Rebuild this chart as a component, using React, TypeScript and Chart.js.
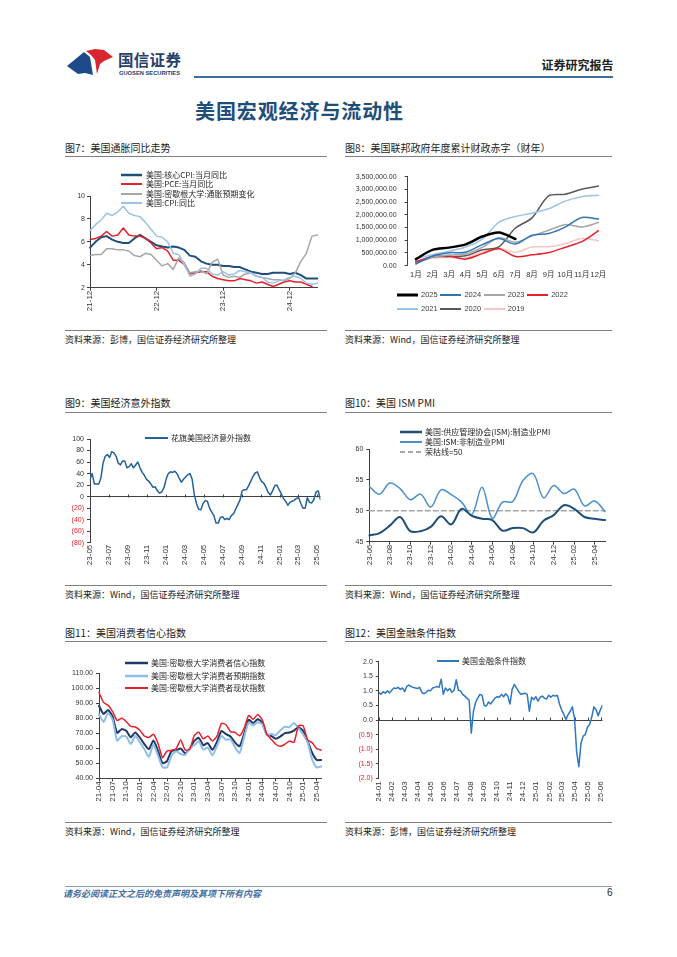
import React, { useEffect, useRef } from "react";
import { Chart, registerables } from "chart.js";

Chart.register(...registerables);

// ===================== DATA =====================

// 图7 美国通胀同比走势 (monthly, 2021-12 .. 2025-05, %)
const inflationStartYear = 2021;
const inflationStartMonth = 12;
const coreCPI = [5.5, 6.0, 6.4, 6.5, 6.2, 6.0, 5.9, 5.9, 6.3, 6.6, 6.3, 6.0, 5.7, 5.6, 5.5, 5.6, 5.5, 5.3, 4.8, 4.7, 4.3, 4.1, 4.0, 4.0, 3.9, 3.9, 3.8, 3.8, 3.6, 3.4, 3.3, 3.2, 3.2, 3.3, 3.3, 3.3, 3.2, 3.3, 3.1, 2.8, 2.8, 2.8];
const pceYoY = [6.2, 6.3, 6.5, 6.9, 6.5, 6.6, 7.2, 6.6, 6.5, 6.5, 6.3, 5.9, 5.4, 5.5, 5.2, 4.4, 4.4, 4.0, 3.2, 3.3, 3.4, 3.4, 3.0, 2.8, 2.7, 2.6, 2.6, 2.8, 2.7, 2.6, 2.4, 2.5, 2.3, 2.1, 2.3, 2.5, 2.6, 2.5, 2.5, 2.3, 2.1, null];
const michInflExp = [4.8, 4.9, 4.9, 5.4, 5.4, 5.3, 5.3, 5.2, 4.8, 4.7, 5.0, 4.9, 4.4, 3.9, 4.1, 3.6, 4.6, 4.2, 3.3, 3.4, 3.5, 3.2, 4.2, 4.5, 3.1, 2.9, 3.0, 2.9, 3.2, 3.3, 3.0, 2.9, 2.8, 2.7, 2.7, 2.6, 2.8, 3.3, 4.3, 5.0, 6.5, 6.6];
const cpiYoY = [7.0, 7.5, 7.9, 8.5, 8.3, 8.6, 9.1, 8.5, 8.3, 8.2, 7.7, 7.1, 6.5, 6.4, 6.0, 5.0, 4.9, 4.0, 3.0, 3.2, 3.7, 3.7, 3.2, 3.1, 3.4, 3.1, 3.2, 3.5, 3.4, 3.3, 3.0, 2.9, 2.5, 2.4, 2.6, 2.7, 2.9, 3.0, 2.8, 2.4, 2.3, 2.4];

// 图8 美国联邦政府年度累计财政赤字 (fiscal-year months, USD mn)
const fiscalMonths = ["1月", "2月", "3月", "4月", "5月", "6月", "7月", "8月", "9月", "10月", "11月", "12月"];
const deficit2025 = [257000, 624000, 711000, 840000, 1147000, 1307000, 1049000];
const deficit2024 = [67000, 382000, 510000, 532000, 828000, 1065000, 855000, 1202000, 1268000, 1516000, 1897000, 1833000];
const deficit2023 = [88000, 337000, 421000, 460000, 723000, 1100000, 925000, 1165000, 1393000, 1614000, 1524000, 1695000];
const deficit2022 = [165000, 356000, 377000, 259000, 475000, 668000, 360000, 426000, 515000, 726000, 946000, 1375000];
const deficit2021 = [284000, 429000, 573000, 736000, 1047000, 1706000, 1932000, 2064000, 2238000, 2540000, 2711000, 2772000];
const deficit2020 = [134000, 342000, 357000, 389000, 624000, 743000, 1481000, 1880000, 2744000, 2807000, 3007000, 3132000];
const deficit2019 = [100000, 305000, 319000, 310000, 544000, 691000, 531000, 738000, 747000, 867000, 1067000, 984000];

// 图9 花旗美国经济意外指数 (weekly from 2023-05-01)
const citiStartDate = "2023-05-01";
const citiStepDays = 7;
const citiSurprise = [30, 40, 22, 22, 22, 32, 58, 70, 73, 68, 78, 76, 70, 58, 55, 62, 62, 50, 52, 57, 50, 55, 60, 50, 42, 37, 30, 27, 22, 16, 17, 10, 6, 8, 15, 30, 40, 43, 42, 44, 40, 32, 25, 30, 34, 38, 40, 30, 3, -12, -22, -23, -12, -7, -8, -20, -27, -33, -46, -46, -36, -35, -40, -38, -40, -33, -30, -22, -14, -6, 10, 12, 12, 19, 27, 35, 41, 43, 33, 26, 23, 16, 7, 3, 10, 19, 20, 12, 5, -3, -8, -15, -10, -8, -6, -3, -2, -12, -20, -20, -2, -10, -11, -5, 8, 10, -5];

// 图10 美国 ISM PMI (monthly, 2023-06 .. 2025-05)
const pmiStartYear = 2023;
const pmiStartMonth = 6;
const ismManufacturing = [46.0, 46.4, 47.6, 49.0, 46.7, 46.7, 47.4, 49.1, 47.8, 50.3, 49.2, 48.7, 48.5, 46.8, 47.2, 47.2, 46.5, 48.4, 49.3, 50.9, 50.3, 49.0, 48.7, 48.5];
const ismServices = [53.9, 52.7, 54.5, 53.6, 51.8, 52.7, 50.6, 53.4, 52.6, 51.4, 49.4, 53.8, 48.8, 51.4, 51.5, 54.9, 56.0, 52.1, 54.1, 52.8, 53.5, 50.8, 51.6, 49.9];
const pmiThreshold = 50;

// 图11 美国消费者信心指数 (monthly, 2021-04 .. 2025-05)
const sentimentStartYear = 2021;
const sentimentStartMonth = 4;
const umConfidence = [88.3, 82.9, 85.5, 81.2, 70.3, 72.8, 71.7, 67.4, 70.6, 67.2, 62.8, 59.4, 65.2, 58.4, 50.0, 51.5, 58.2, 58.6, 59.9, 56.8, 59.7, 64.9, 67.0, 62.0, 63.5, 59.0, 64.2, 71.5, 69.4, 67.9, 63.8, 61.3, 69.7, 79.0, 76.9, 79.4, 77.2, 69.1, 68.2, 66.4, 67.9, 70.1, 70.5, 71.8, 74.0, 71.7, 64.7, 57.0, 52.2, 52.2];
const umExpectations = [82.7, 77.6, 83.5, 79.0, 65.1, 68.1, 67.9, 62.8, 68.3, 64.1, 59.4, 54.3, 62.5, 55.2, 47.5, 47.3, 55.2, 58.0, 56.2, 55.6, 59.9, 62.0, 64.7, 59.2, 60.5, 55.4, 61.3, 68.3, 65.7, 66.0, 60.7, 56.8, 67.4, 77.1, 75.2, 77.4, 76.0, 68.8, 69.6, 68.8, 72.1, 74.4, 74.1, 76.9, 73.3, 69.3, 64.0, 52.6, 47.3, 47.9];
const umCurrent = [97.2, 90.6, 88.6, 84.5, 78.5, 80.1, 77.9, 74.6, 74.2, 72.0, 68.2, 67.2, 69.4, 63.3, 53.8, 58.1, 58.6, 59.7, 65.6, 58.8, 59.4, 68.4, 70.7, 66.3, 68.2, 64.9, 68.0, 76.6, 75.7, 71.1, 70.6, 68.3, 73.3, 81.9, 79.4, 82.5, 79.0, 69.6, 65.9, 62.7, 61.3, 62.7, 64.9, 63.9, 75.1, 75.1, 65.7, 63.8, 59.8, 58.9];

// 图12 美国金融条件指数 (every 5 days from 2024-01-01)
const fciStartDate = "2024-01-01";
const fciStepDays = 5;
const fciValues = [
  0.95, 0.88, 0.97, 0.92, 1.0, 0.93,
  1.02, 1.1, 1.08, 1.12, 1.05, 1.1,
  0.97, 1.15, 1.2, 1.15, 1.12, 1.1,
  1.08, 1.12, 0.95, 0.9, 0.95, 1.02,
  1.0, 1.1, 1.12, 1.15, 1.12, 1.4,
  0.88, 1.1, 1.0, 1.08, 0.95, 1.02,
  1.38, 1.02, 1.0, 0.88, 0.82, 0.75,
  0.68, -0.45, 0.3, 0.6, 0.75, 0.88,
  0.85, 0.5, 0.48, 0.62, 0.55, 0.65,
  0.75, 0.8, 0.78, 0.88, 0.8, 0.9, 0.82,
  0.55, 1.05, 1.22, 1.1, 0.98, 0.88,
  0.9, 0.92, 0.88, 0.3, 0.78, 0.7,
  0.8, 0.65, 0.78, 0.82, 0.75, 0.72,
  0.85, 0.78, 0.85, 0.82, 0.85, 0.55,
  0.35, 0.2, 0.02, 0.18, 0.3, 0.45,
  0.05, -1.1, -1.6, -0.8, -0.55, -0.5,
  -0.25, -0.15, 0.1, 0.45, 0.35, 0.15,
  0.35, 0.5,
];

// ===================== STYLE / HELPERS =====================

const FONT = "'Liberation Sans', Arial, 'Noto Sans CJK SC', sans-serif";
const CJK = "'Noto Sans CJK SC', 'Liberation Sans', sans-serif";
const AXIS = "#404040";
const TXT = "#333333";
const NEG = "#e8202a";

Chart.defaults.font.family = FONT;
Chart.defaults.color = TXT;

type Box = { left: number; top: number; width: number; height: number };
type Plot = { left: number; top: number; right: number; bottom: number };
type Series = { label: string; data: (number | null)[]; color: string; width: number; dash?: number[] };

function monthLabels(y: number, m: number, n: number): string[] {
  const out: string[] = [];
  for (let i = 0; i < n; i++) {
    const mm = ((m - 1 + i) % 12) + 1;
    const yy = y + Math.floor((m - 1 + i) / 12);
    out.push(`${String(yy % 100).padStart(2, "0")}-${String(mm).padStart(2, "0")}`);
  }
  return out;
}

function parseISO(s: string) {
  const [y, m, d] = s.split("-").map(Number);
  return { y, m, d, t: Date.UTC(y, m - 1, d) };
}

function monthTickDays(startISO: string, every: number, maxDay: number): number[] {
  const s = parseISO(startISO);
  const out: number[] = [];
  for (let k = 0; k < 400; k += every) {
    const day = Math.round((Date.UTC(s.y, s.m - 1 + k, 1) - s.t) / 86400000);
    if (day > maxDay) break;
    out.push(day);
  }
  return out;
}

function dayToLabel(startISO: string, v: number): string {
  const s = parseISO(startISO);
  const dt = new Date(s.t + Math.round(v) * 86400000);
  return `${String(dt.getUTCFullYear() % 100).padStart(2, "0")}-${String(dt.getUTCMonth() + 1).padStart(2, "0")}`;
}

function makeOptions(box: Box, plot: Plot, xScale: any, yScale: any) {
  const padTop = plot.top - box.top;
  const padRight = box.left + box.width - plot.right;
  const yW = plot.left - box.left;
  const xH = box.top + box.height - plot.bottom;
  return {
    responsive: false,
    maintainAspectRatio: false,
    animation: false,
    devicePixelRatio: 1,
    events: [],
    layout: { padding: { top: padTop, right: padRight, left: 0, bottom: 0 } },
    plugins: { legend: { display: false }, tooltip: { enabled: false }, title: { display: false } },
    elements: { point: { radius: 0 }, line: { borderJoinStyle: "round", borderCapStyle: "round" } },
    scales: {
      x: {
        ...xScale,
        afterFit: (s: any) => {
          s.height = xH;
          s.paddingLeft = 0;
          s.paddingRight = 0;
        },
      },
      y: {
        ...yScale,
        afterFit: (s: any) => {
          s.width = yW;
          s.paddingTop = 0;
          s.paddingBottom = 0;
        },
      },
    },
  };
}

function yLinear(min: number, max: number, step: number, fmt: (v: number) => string, padding: number, zeroLine = false) {
  return {
    type: "linear",
    min,
    max,
    ticks: {
      stepSize: step,
      callback: (v: number) => fmt(v),
      font: { family: FONT, size: 7 },
      color: (c: any) => (c.tick && c.tick.value < 0 ? NEG : TXT),
      padding,
    },
    grid: zeroLine
      ? {
          drawOnChartArea: true,
          drawTicks: true,
          tickLength: 3,
          tickColor: AXIS,
          color: (c: any) => (c.tick && Math.abs(c.tick.value) < 1e-9 ? AXIS : "rgba(0,0,0,0)"),
        }
      : { drawOnChartArea: false, drawTicks: true, tickLength: 3, tickColor: AXIS },
    border: { display: true, color: AXIS, width: 1 },
  };
}

function xCategory(keep: (i: number) => boolean, opts: { padding?: number; offset?: boolean; rotate?: boolean; marks?: boolean; border?: boolean; size?: number } = {}) {
  const rotate = opts.rotate ?? true;
  const marks = opts.marks ?? true;
  return {
    type: "category",
    offset: opts.offset ?? false,
    afterBuildTicks: (s: any) => {
      s.ticks = s.ticks.filter((t: any) => keep(t.value));
    },
    ticks: {
      autoSkip: false,
      minRotation: rotate ? 90 : 0,
      maxRotation: rotate ? 90 : 0,
      padding: opts.padding ?? 0,
      font: { family: FONT, size: opts.size ?? 8 },
      color: TXT,
    },
    grid: { display: marks, drawOnChartArea: false, drawTicks: marks, tickLength: 3, tickColor: AXIS, offset: false },
    border: { display: opts.border ?? true, color: AXIS, width: 1 },
  };
}

function xDays(startISO: string, maxDay: number, every: number, padding: number) {
  const tickDays = monthTickDays(startISO, every, maxDay);
  return {
    type: "linear",
    min: 0,
    max: maxDay,
    afterBuildTicks: (s: any) => {
      s.ticks = tickDays.map((v) => ({ value: v }));
    },
    ticks: {
      autoSkip: false,
      minRotation: 90,
      maxRotation: 90,
      padding,
      font: { family: FONT, size: 8 },
      color: TXT,
      callback: (v: number) => dayToLabel(startISO, v),
    },
    grid: { display: false, drawTicks: false },
    border: { display: false },
  };
}

const zeroTickPlugin = {
  id: "zeroTicks",
  beforeDatasetsDraw(chart: any) {
    const { ctx, scales } = chart;
    const x = scales.x;
    const y = scales.y;
    const y0 = Math.round(y.getPixelForValue(0)) + 0.5;
    ctx.save();
    ctx.strokeStyle = AXIS;
    ctx.lineWidth = 1;
    x.ticks.forEach((t: any) => {
      const px = Math.round(x.getPixelForValue(t.value)) + 0.5;
      ctx.beginPath();
      ctx.moveTo(px, y0 - 3);
      ctx.lineTo(px, y0);
      ctx.stroke();
    });
    ctx.restore();
  },
};

function lineDatasets(series: Series[], tension: number, excelOrder: boolean) {
  return series.map((s, i) => ({
    label: s.label,
    data: s.data,
    borderColor: s.color,
    backgroundColor: s.color,
    borderWidth: s.width,
    borderDash: s.dash ?? [],
    pointRadius: 0,
    tension,
    fill: false,
    spanGaps: false,
    order: excelOrder ? series.length - i : i,
  }));
}

// ===================== SERIES META =====================

const NAVY = "#1f4e79";
const RED = "#e5222c";
const GRAY = "#a6a6a6";
const LIGHT = "#9cc3e6";

const fig7Series: Series[] = [
  { label: "美国:核心CPI:当月同比", data: coreCPI, color: NAVY, width: 2 },
  { label: "美国:PCE:当月同比", data: pceYoY, color: RED, width: 1.5 },
  { label: "美国:密歇根大学:通胀预期变化", data: michInflExp, color: GRAY, width: 1.5 },
  { label: "美国:CPI:同比", data: cpiYoY, color: LIGHT, width: 1.5 },
];

const fig8Series: Series[] = [
  { label: "2025", data: deficit2025, color: "#000000", width: 2.5 },
  { label: "2024", data: deficit2024, color: "#2e75b6", width: 1.5 },
  { label: "2023", data: deficit2023, color: "#a6a6a6", width: 1.5 },
  { label: "2022", data: deficit2022, color: "#e5222c", width: 1.5 },
  { label: "2021", data: deficit2021, color: "#9dc3e6", width: 1.5 },
  { label: "2020", data: deficit2020, color: "#595959", width: 1.5 },
  { label: "2019", data: deficit2019, color: "#f7c6c6", width: 1.5 },
];

const fig9Series: Series[] = [{ label: "花旗美国经济意外指数", data: citiSurprise, color: "#22619c", width: 1.5 }];

const fig10Series: Series[] = [
  { label: "美国:供应管理协会(ISM):制造业PMI", data: ismManufacturing, color: "#1f4e79", width: 2 },
  { label: "美国:ISM:非制造业PMI", data: ismServices, color: "#4a8fcc", width: 1.5 },
  { label: "荣枯线=50", data: ismManufacturing.map(() => pmiThreshold), color: "#a6a6a6", width: 1.5, dash: [5, 3] },
];

const fig11Series: Series[] = [
  { label: "美国:密歇根大学消费者信心指数", data: umConfidence, color: "#1f3864", width: 2 },
  { label: "美国:密歇根大学消费者预期指数", data: umExpectations, color: "#8fbde8", width: 2 },
  { label: "美国:密歇根大学消费者现状指数", data: umCurrent, color: "#e5222c", width: 1.5 },
];

const fig12Series: Series[] = [{ label: "美国金融条件指数", data: fciValues, color: "#2e78be", width: 1.5 }];

// ===================== CHART CONFIGS =====================

const fig7Box: Box = { left: 65, top: 158, width: 262, height: 171 };
const fig7Plot: Plot = { left: 90, top: 196, right: 317.5, bottom: 287.7 };
function fig7Config() {
  const labels = monthLabels(inflationStartYear, inflationStartMonth, coreCPI.length);
  return {
    type: "line",
    data: { labels, datasets: lineDatasets(fig7Series, 0, true) },
    options: makeOptions(
      fig7Box,
      fig7Plot,
      xCategory((i) => labels[i].endsWith("-12"), { padding: 0 }),
      yLinear(2, 10, 2, (v) => String(v), 2)
    ),
  };
}

const fig8Box: Box = { left: 345, top: 158, width: 267, height: 171 };
const fig8Plot: Plot = { left: 407.6, top: 176.7, right: 606.7, bottom: 265.7 };
function fig8Config() {
  return {
    type: "line",
    data: { labels: fiscalMonths, datasets: lineDatasets(fig8Series, 0.3, false) },
    options: makeOptions(
      fig8Box,
      fig8Plot,
      xCategory(() => true, { offset: true, rotate: false, marks: false, border: false, padding: 5, size: 7.5 }),
      yLinear(0, 3500000, 500000, (v) => v.toLocaleString("en-US", { minimumFractionDigits: 2, maximumFractionDigits: 2 }), 8)
    ),
  };
}

const fig9Box: Box = { left: 65, top: 413, width: 262, height: 171 };
const fig9Plot: Plot = { left: 90, top: 439, right: 320.4, bottom: 542.7 };
function fig9Config() {
  const pts = citiSurprise.map((v, i) => ({ x: i * citiStepDays, y: v }));
  const maxDay = (citiSurprise.length - 1) * citiStepDays;
  const ds = lineDatasets(fig9Series, 0, false).map((d) => ({ ...d, data: pts }));
  return {
    type: "line",
    data: { datasets: ds },
    options: makeOptions(
      fig9Box,
      fig9Plot,
      xDays(citiStartDate, maxDay, 2, 2),
      yLinear(-80, 100, 20, (v) => (v < 0 ? `(${-v})` : String(v)), 3, true)
    ),
    plugins: [zeroTickPlugin],
  };
}

const fig10Box: Box = { left: 345, top: 413, width: 267, height: 171 };
const fig10Plot: Plot = { left: 369.3, top: 449, right: 605, bottom: 541.7 };
function fig10Config() {
  const labels = monthLabels(pmiStartYear, pmiStartMonth, ismManufacturing.length);
  const ds = lineDatasets(fig10Series, 0.35, false).map((d, i) => (i === 2 ? { ...d, tension: 0 } : d));
  return {
    type: "line",
    data: { labels, datasets: ds },
    options: makeOptions(fig10Box, fig10Plot, xCategory((i) => i % 2 === 0, { padding: 0 }), yLinear(45, 60, 5, (v) => String(v), 3)),
  };
}

const fig11Box: Box = { left: 65, top: 643, width: 262, height: 178 };
const fig11Plot: Plot = { left: 99, top: 673.3, right: 321.2, bottom: 778.3 };
function fig11Config() {
  const labels = monthLabels(sentimentStartYear, sentimentStartMonth, umConfidence.length);
  return {
    type: "line",
    data: { labels, datasets: lineDatasets(fig11Series, 0.2, true) },
    options: makeOptions(fig11Box, fig11Plot, xCategory((i) => i % 3 === 0, { padding: 0 }), yLinear(40, 110, 10, (v) => v.toFixed(2), 3)),
  };
}

const fig12Box: Box = { left: 345, top: 643, width: 267, height: 178 };
const fig12Plot: Plot = { left: 378.8, top: 661.7, right: 602.5, bottom: 778.3 };
function fig12Config() {
  const pts = fciValues.map((v, i) => ({ x: i * fciStepDays, y: v }));
  const maxDay = (fciValues.length - 1) * fciStepDays;
  const ds = lineDatasets(fig12Series, 0, false).map((d) => ({ ...d, data: pts }));
  return {
    type: "line",
    data: { datasets: ds },
    options: makeOptions(
      fig12Box,
      fig12Plot,
      xDays(fciStartDate, maxDay, 1, 3),
      yLinear(-2, 2, 0.5, (v) => (v < 0 ? `(${(-v).toFixed(1)})` : v.toFixed(1)), 3, true)
    ),
    plugins: [zeroTickPlugin],
  };
}

// ===================== COMPONENTS =====================

function ChartCanvas({ box, build }: { box: Box; build: () => any }) {
  const ref = useRef<HTMLCanvasElement>(null);
  useEffect(() => {
    const chart = new Chart(ref.current as HTMLCanvasElement, build());
    return () => chart.destroy();
  }, []);
  return (
    <canvas
      ref={ref}
      width={box.width}
      height={box.height}
      style={{ position: "absolute", left: box.left, top: box.top, width: box.width, height: box.height }}
    />
  );
}

function Txt({ x, y, size, text, color = "#262626", weight = 400, family = CJK, style = {} }: any) {
  return (
    <div
      style={{
        position: "absolute",
        left: x,
        top: y,
        transform: "translateY(-50%)",
        fontSize: size,
        lineHeight: 1,
        fontFamily: family,
        fontWeight: weight,
        color,
        whiteSpace: "nowrap",
        ...style,
      }}
    >
      {text}
    </div>
  );
}

function HLine({ x0, x1, y, color = "#7f7f7f", h = 1 }: any) {
  return <div style={{ position: "absolute", left: x0, top: y, width: x1 - x0, height: h, background: color }} />;
}

function Swatch({ x, y, w, s }: { x: number; y: number; w: number; s: Series }) {
  const sw = Math.max(2, s.width + 0.5);
  return (
    <svg style={{ position: "absolute", left: x, top: y - 4 }} width={w} height={8}>
      <line x1={0} y1={4} x2={w} y2={4} stroke={s.color} strokeWidth={sw} strokeDasharray={s.dash ? s.dash.join(" ") : undefined} />
    </svg>
  );
}

function LegendCol({ series, x, ys, w, gap = 4, size = 8 }: { series: Series[]; x: number; ys: number[]; w: number; gap?: number; size?: number }) {
  return (
    <>
      {series.map((s, i) => (
        <React.Fragment key={s.label}>
          <Swatch x={x} y={ys[i]} w={w} s={s} />
          <Txt x={x + w + gap} y={ys[i]} size={size} text={s.label} />
        </React.Fragment>
      ))}
    </>
  );
}

function Panel({ x0, x1, titleY, lineY, bottomY, sourceY, title, source }: any) {
  return (
    <>
      <Txt x={x0} y={titleY} size={10} text={title} color="#1a1a1a" />
      <HLine x0={x0} x1={x1} y={lineY} />
      <HLine x0={x0} x1={x1} y={bottomY} />
      <Txt x={x0} y={sourceY} size={9} text={source} color="#1a1a1a" />
    </>
  );
}

export default function App() {
  const L = { x0: 65, x1: 327 };
  const R = { x0: 345, x1: 612 };
  const rowA = { titleY: 147.5, lineY: 156, bottomY: 330, sourceY: 339 };
  const rowB = { titleY: 403, lineY: 411.5, bottomY: 585, sourceY: 594 };
  const rowC = { titleY: 633, lineY: 641, bottomY: 822, sourceY: 831 };
  const srcBB = "资料来源：彭博，国信证券经济研究所整理";
  const srcWind = "资料来源：Wind，国信证券经济研究所整理";

  return (
    <div style={{ position: "absolute", left: 0, top: 0, width: 677, height: 957, background: "#ffffff", overflow: "hidden" }}>
      {/* Header */}
      <svg style={{ position: "absolute", left: 66, top: 48 }} width={48} height={28} viewBox="0 0 48 28">
        <polygon points="1,18 18,4 24,9 27,27 19,25 12,26" fill="#1e4a8a" />
        <polygon points="20,3 29,1 38,2 47,9 38,13 34,16 31,26 29,12 25,7" fill="#d8262f" />
      </svg>
      <Txt x={118} y={60} size={15.5} text="国信证券" color="#27406b" weight={700} style={{ letterSpacing: 0.3 }} />
      <svg style={{ position: "absolute", left: 118, top: 69 }} width={64} height={8}>
        <text x={1} y={5.5} fontSize={5} fontWeight={700} fill="#27406b" fontFamily={FONT} textLength={61} lengthAdjust="spacingAndGlyphs">
          GUOSEN SECURITIES
        </text>
      </svg>
      <Txt x={541.5} y={64.5} size={12} text="证券研究报告" color="#222222" weight={700} />
      <div style={{ position: "absolute", left: 194, top: 75.5, width: 419, height: 2, background: "#3d6e9c" }} />
      <Txt x={195} y={110.5} size={20} text="美国宏观经济与流动性" color="#1f4e79" weight={700} style={{ letterSpacing: 0.9 }} />

      {/* Panels */}
      <Panel {...L} {...rowA} title="图7：美国通胀同比走势" source={srcBB} />
      <Panel {...R} {...rowA} title="图8：美国联邦政府年度累计财政赤字（财年）" source={srcWind} />
      <Panel {...L} {...rowB} title="图9：美国经济意外指数" source={srcWind} />
      <Panel {...R} {...rowB} title="图10：美国 ISM PMI" source={srcWind} />
      <Panel {...L} {...rowC} title="图11：美国消费者信心指数" source={srcWind} />
      <Panel {...R} {...rowC} title="图12：美国金融条件指数" source={srcBB} />

      {/* Charts */}
      <ChartCanvas box={fig7Box} build={fig7Config} />
      <ChartCanvas box={fig8Box} build={fig8Config} />
      <ChartCanvas box={fig9Box} build={fig9Config} />
      <ChartCanvas box={fig10Box} build={fig10Config} />
      <ChartCanvas box={fig11Box} build={fig11Config} />
      <ChartCanvas box={fig12Box} build={fig12Config} />

      {/* Legends */}
      <LegendCol series={fig7Series} x={121} ys={[175, 184.4, 193.8, 203.2]} w={21} />
      {fig8Series.map((s, i) => {
        const col = i % 4;
        const row = Math.floor(i / 4);
        const x = 397 + col * 43.4;
        const y = 295 + row * 14;
        return (
          <React.Fragment key={s.label}>
            <Swatch x={x} y={y} w={21} s={s} />
            <Txt x={x + 24} y={y} size={7.5} text={s.label} family={FONT} color="#404040" />
          </React.Fragment>
        );
      })}
      <LegendCol series={fig9Series} x={145} ys={[438.3]} w={23} gap={3} />
      <LegendCol series={fig10Series} x={400} ys={[432.3, 442.3, 452.3]} w={22} gap={3} />
      <LegendCol series={fig11Series} x={125} ys={[663.3, 676, 688.3]} w={23} gap={3} />
      <LegendCol series={fig12Series} x={437} ys={[660.7]} w={22} gap={3} />

      {/* Footer */}
      <HLine x0={65} x1={612} y={886} color="#8a9bb5" />
      <Txt x={63} y={893} size={9} text="请务必阅读正文之后的免责声明及其项下所有内容" color="#3f6fa3" weight={600} style={{ fontStyle: "italic" }} />
      <Txt x={607} y={893} size={10} text="6" family={FONT} color="#222222" />
    </div>
  );
}
